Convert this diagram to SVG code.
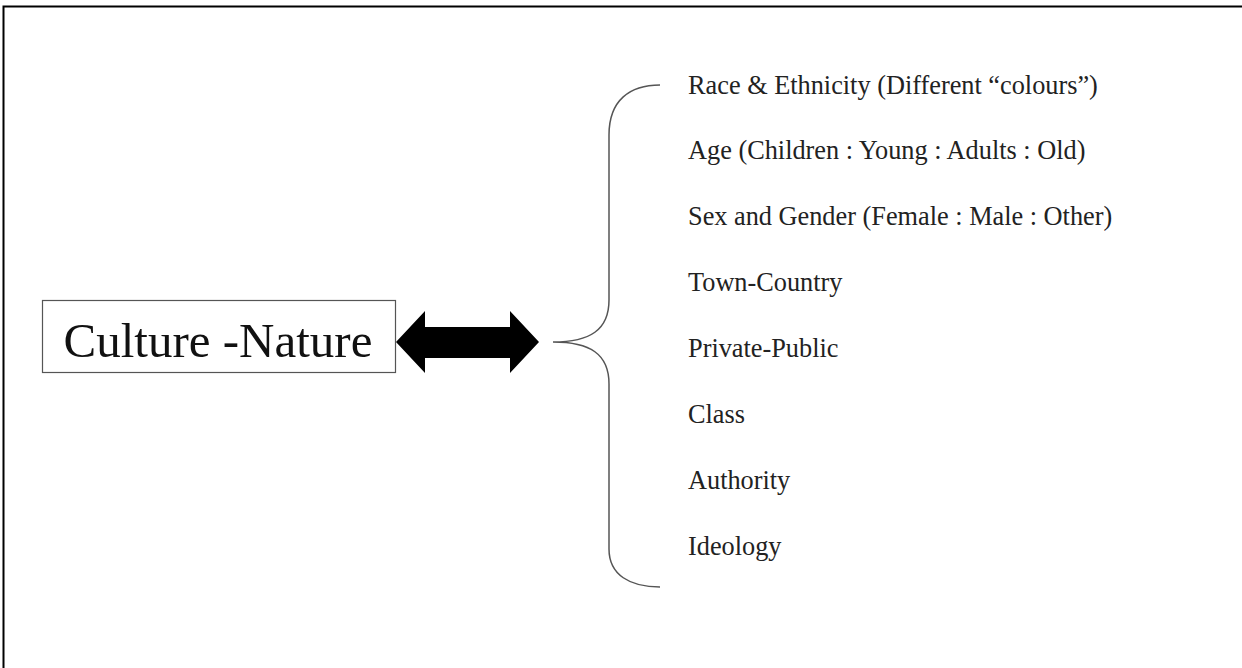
<svg xmlns="http://www.w3.org/2000/svg" width="1242" height="668" viewBox="0 0 1242 668">
<style>
.lbl{font-family:"Liberation Serif","Times New Roman",serif;font-size:26.3px;fill:#222}
.title{font-family:"Liberation Serif","Times New Roman",serif;font-size:49px;fill:#111}
</style>
<rect width="1242" height="668" fill="#fff"/>
<path d="M3.5,668 V6.5 H1242" fill="none" stroke="#000" stroke-width="2"/>
<g id="node-culture">
<rect x="42.5" y="300.5" width="353" height="72" fill="#fff" stroke="#555" stroke-width="1.2"/>
<text class="title" x="218" y="357" text-anchor="middle">Culture -Nature</text>
</g>
<g id="connectors">
<polygon points="396,342 425,311 425,327 510,327 510,311 539,342 510,373 510,358 425,358 425,373" fill="#000"/>
<path d="M660,85 C630,85 609,100 609,135 L609,300 C609,330 590,342 553,342 C590,342 609,354 609,384 L609,549 C609,575 630,587 660,587" fill="none" stroke="#555" stroke-width="1.5"/>
</g>
<g id="node-list">
<text class="lbl" x="688" y="94">Race &amp; Ethnicity (Different “colours”)</text>
<text class="lbl" x="688" y="159">Age (Children : Young : Adults : Old)</text>
<text class="lbl" x="688" y="225">Sex and Gender (Female : Male : Other)</text>
<text class="lbl" x="688" y="291">Town-Country</text>
<text class="lbl" x="688" y="357">Private-Public</text>
<text class="lbl" x="688" y="423">Class</text>
<text class="lbl" x="688" y="489">Authority</text>
<text class="lbl" x="688" y="555">Ideology</text>
</g>
</svg>
